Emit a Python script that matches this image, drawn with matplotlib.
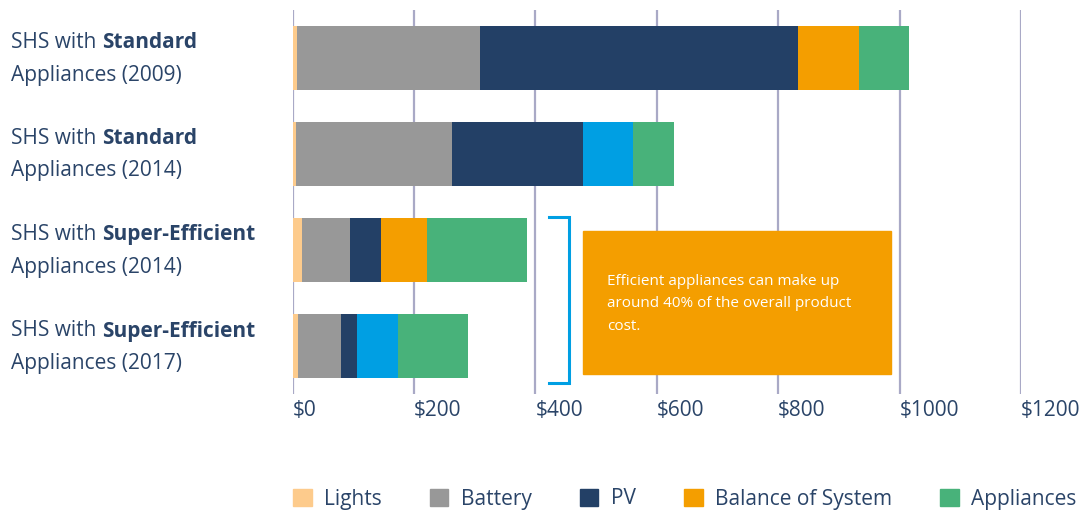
import numpy as np
import matplotlib
matplotlib.use("Agg")
import matplotlib.pyplot as plt
import matplotlib.patches as mpatches

plt.rcParams["font.family"] = ["Open Sans", "DejaVu Sans"]

# ── Data (USD per system) ─────────────────────────────────────────────────
categories = [("Standard", "2009"), ("Standard", "2014"),
              ("Super-Efficient", "2014"), ("Super-Efficient", "2017")]
components = ["Lights", "Battery", "PV", "Balance of System", "Appliances"]
lights     = [7, 5, 15, 9]
battery    = [301, 258, 80, 71]
pv         = [525, 215, 51, 26]
bos        = [100, 83, 75, 68]
appliances = [83, 67, 165, 115]
xticks     = [0, 200, 400, 600, 800, 1000, 1200]

NAVY = "#2A4468"
COLORS = ["#FDCB8C", "#989898", "#234066", "#F49E00", "#48B27A"]
BOS_BLUE = "#009FE3"   # 2014 standard / 2017 bars show BoS in blue

fig = plt.figure(figsize=(10.84, 5.16), dpi=100)
W, H = 1084, 516
ax = fig.add_axes([292.7 / W, 1 - 394 / H, (1021 - 292.7) / W, (394 - 10) / H])

series = [lights, battery, pv, bos, appliances]
y = np.arange(len(categories))
left = np.zeros(len(categories))
for i, vals in enumerate(series):
    cols = [COLORS[i]] * len(categories)
    if components[i] == "Balance of System":
        cols[1] = BOS_BLUE
        cols[3] = BOS_BLUE
    ax.barh(y, vals, left=left, height=0.67, color=cols, zorder=3, linewidth=0)
    left += np.array(vals)

ax.set_ylim(len(categories) - 0.5, -0.5)
ax.set_xlim(0, 1200)
ax.set_xticks(xticks)
ax.set_xticklabels([f"${v}" for v in xticks], fontsize=15, color=NAVY, ha="left")
ax.tick_params(axis="x", length=0, pad=4)
ax.set_yticks([])
ax.grid(axis="x", color="#A9A9C6", lw=1.6, zorder=0)
for s in ax.spines.values():
    s.set_visible(False)

# category labels, mixed weight
for i, (kind, year) in enumerate(categories):
    ypix = 58 + i * 96
    t = fig.text(11 / W, 1 - (ypix - 15) / H, "SHS with ", fontsize=15,
                 color=NAVY, va="center", ha="left")
    ax.annotate(kind, xy=(1, 0.5), xycoords=t, va="center", ha="left",
                fontsize=15, color=NAVY, fontweight="bold")
    fig.text(11 / W, 1 - (ypix + 17) / H, f"Appliances ({year})", fontsize=15,
             color=NAVY, va="center", ha="left")

# bracket + callout
bx0, bx1 = 422, 455
ax.plot([bx0, bx1, bx1, bx0], [1.66, 1.66, 3.39, 3.39], color=BOS_BLUE, lw=2.2,
        zorder=4, solid_joinstyle="miter", clip_on=False)
ax.add_patch(mpatches.Rectangle((478, 1.80), 508, 1.49, color="#F49E00", zorder=5))
ax.text(518, 2.56, "Efficient appliances can make up\naround 40% of the overall product\ncost.",
        color="white", fontsize=11, va="center", ha="left", linespacing=1.7, zorder=6)

handles = [mpatches.Patch(color=c, label=l) for c, l in zip(COLORS, components)]
fig.legend(handles=handles, loc="center left", bbox_to_anchor=(274 / W, 1 - 499 / H),
           ncol=5, frameon=False, fontsize=15, labelcolor=NAVY,
           handlelength=0.9, handleheight=0.9, handletextpad=0.6, columnspacing=2.3)

fig.savefig("out.png", dpi=100)
